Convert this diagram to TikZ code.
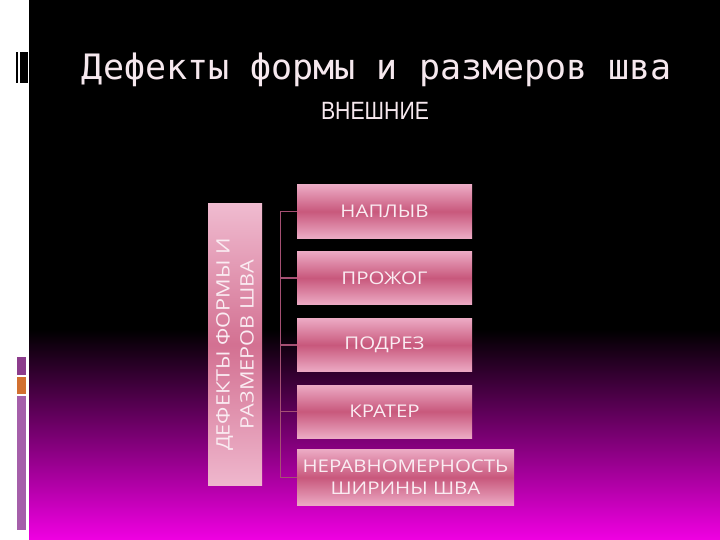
\documentclass[tikz,border=0pt]{standalone}
\usepackage{fontspec}
\setmainfont{Open Sans}
\newfontfamily\boxfont[FakeStretch=1.17]{Open Sans}
\newfontfamily\titlefont{DejaVu Sans Mono}
\newfontfamily\subfont[FakeStretch=0.85]{Liberation Sans}
\definecolor{magentaend}{RGB}{240,0,226}
\definecolor{boxlight}{RGB}{236,170,196}
\definecolor{boxmid}{RGB}{200,88,124}
\definecolor{boxtext}{RGB}{250,236,242}
\definecolor{linecol}{RGB}{165,80,115}
\definecolor{titlecol}{RGB}{246,232,238}
\definecolor{decpurple}{RGB}{140,60,140}
\definecolor{decorange}{RGB}{210,112,48}
\definecolor{declav}{RGB}{165,95,170}
\tikzset{
  itembox/.style={draw=none, minimum width=175pt, minimum height=53pt, inner sep=0pt,
    top color=boxlight, bottom color=boxlight, middle color=boxmid,
    text=boxtext, font=\boxfont\fontsize{17.5}{22}\selectfont, align=center},
  sidebox/.style={draw=none, minimum width=281pt, minimum height=54pt, inner sep=0pt,
    rotate=90, top color=boxlight!80!white, bottom color=boxlight!85!white, middle color=boxmid!70!boxlight,
    text=boxtext, font=\boxfont\fontsize{18.5}{24}\selectfont, align=center},
  conn/.style={draw=linecol, line width=1.2pt}
}
\begin{document}
\begin{tikzpicture}[x=1pt,y=-1pt]
\useasboundingbox (0,0) rectangle (720,540);
% background
\fill[white] (0,0) rectangle (720,540);
\fill[black] (29,0) rectangle (720,330);
\shade[top color=black, bottom color=magentaend] (29,329.5) rectangle (720,540);
% left decorations
\fill[black] (16,52) rectangle (18,83);
\fill[black] (20,52) rectangle (28,83);
\fill[decpurple] (17,357) rectangle (26,375);
\fill[decorange] (17,377) rectangle (26,394);
\fill[declav] (17,396) rectangle (26,530);
% titles
\node[text=titlecol, font=\titlefont\fontsize{35}{38}\selectfont, anchor=center] (title) at (377,70) {Дефекты формы и размеров шва};
\node[text=titlecol, font=\subfont\fontsize{25}{28}\selectfont] (sub) at (375,110.5) {ВНЕШНИЕ};
% side box
\node[sidebox] (side) at (235,344.5) {ДЕФЕКТЫ ФОРМЫ И\\РАЗМЕРОВ ШВА};
% item boxes
\node[itembox] (b1) at (384.5,211.5) {НАПЛЫВ};
\node[itembox] (b2) at (384.5,278) {ПРОЖОГ};
\node[itembox] (b3) at (384.5,345) {ПОДРЕЗ};
\node[itembox] (b4) at (384.5,411.5) {КРАТЕР};
\node[itembox, minimum width=217pt, minimum height=56pt] (b5) at (405.5,477.5) {НЕРАВНОМЕРНОСТЬ\\ШИРИНЫ ШВА};
% connectors
\coordinate (trunk) at (280.5,211.5);
\foreach \b in {b1,b2,b3,b4,b5} {
  \draw[conn] (trunk) |- (\b.west);
}
\end{tikzpicture}
\end{document}
